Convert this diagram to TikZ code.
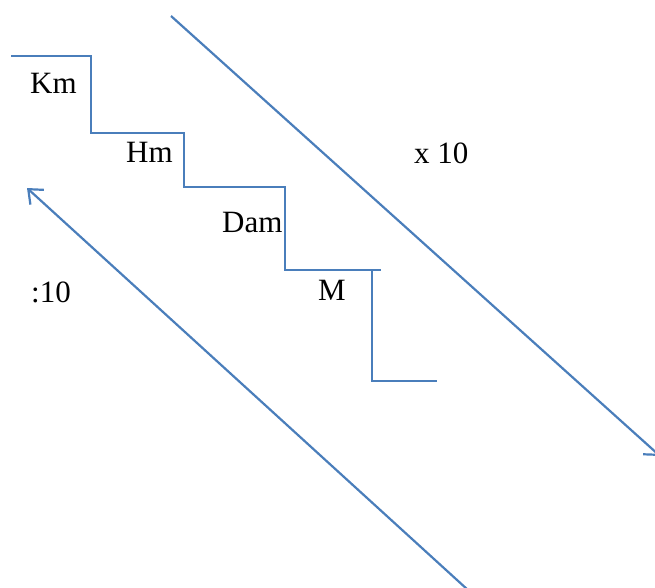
\documentclass[tikz,border=0pt]{standalone}
\usepackage{fontspec}
\setmainfont{Liberation Serif}
\usetikzlibrary{arrows.meta}
\definecolor{lineblue}{RGB}{74,126,187}
\tikzset{
  stair/.style={draw=lineblue, line width=2.2pt},
  conv/.style={draw=lineblue, line width=2.2pt, -{Straight Barb[length=12pt,width=20pt,line width=2.2pt]}},
  lbl/.style={anchor=base west, inner sep=0pt, text=black, font=\fontsize{31}{37}\selectfont}
}
\begin{document}
\begin{tikzpicture}[x=1pt,y=-1pt]
\useasboundingbox (0,0) rectangle (655,587);
% staircase
\draw[stair] (11,56) -- (91,56) -- (91,133) -- (184,133) -- (184,187) -- (285,187) -- (285,270) -- (381,270);
\draw[stair] (372,270) -- (372,381) -- (437,381);
% labels
\node[lbl] (km) at (30,93) {Km};
\node[lbl] (hm) at (126,162) {Hm};
\node[lbl] (dam) at (222,232) {Dam};
\node[lbl] (m) at (318,300) {M};
\node[lbl] (times) at (414,163) {x 10};
\node[lbl] (div) at (31,302) {:10};
% arrows
\coordinate (a1s) at (171,16);
\coordinate (a1e) at (660,456);
\coordinate (a2s) at (468,590);
\coordinate (a2e) at (27,188);
\draw[conv] (a1s) -- (a1e);
\draw[conv] (a2s) -- (a2e);
\end{tikzpicture}
\end{document}
